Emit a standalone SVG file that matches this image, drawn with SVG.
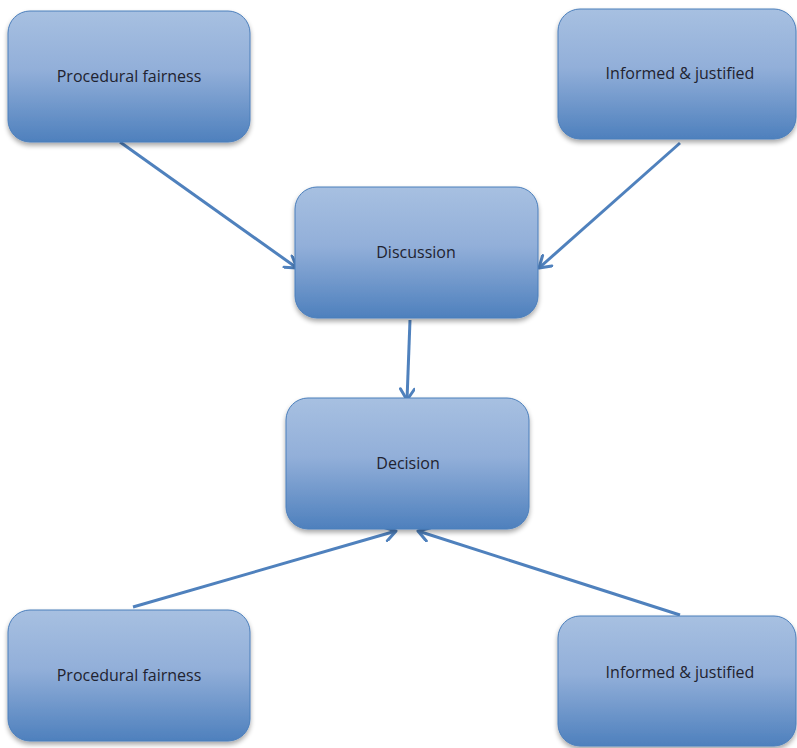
<svg xmlns="http://www.w3.org/2000/svg" width="797" height="748" viewBox="0 0 797 748">
<defs>
<linearGradient id="g" x1="0" y1="0" x2="0" y2="1">
<stop offset="0" stop-color="#a7c0e1"/>
<stop offset="0.45" stop-color="#92afd9"/>
<stop offset="1" stop-color="#4e80bd"/>
</linearGradient>
<filter id="sh" x="-10%" y="-10%" width="130%" height="130%">
<feGaussianBlur in="SourceAlpha" stdDeviation="2.5"/>
<feOffset dx="0" dy="3" result="b"/>
<feComponentTransfer><feFuncA type="linear" slope="0.35"/></feComponentTransfer>
<feMerge><feMergeNode/><feMergeNode in="SourceGraphic"/></feMerge>
</filter>
<marker id="arr" viewBox="0 0 16 16" refX="14" refY="8" markerWidth="16" markerHeight="16" markerUnits="userSpaceOnUse" orient="auto">
<path d="M3,1 L14,8 L3,15" fill="none" stroke="#4f81bd" stroke-width="3" stroke-linecap="round" stroke-linejoin="round"/>
</marker>
</defs>
<style>
.box{fill:url(#g);stroke:#4a7ebb;stroke-width:1;filter:url(#sh)}
.lbl{font-family:"Open Sans","Noto Sans",sans-serif;font-size:16px;fill:#1f2330;text-anchor:middle;dominant-baseline:central}
.con{stroke:#4f81bd;stroke-width:3;fill:none;marker-end:url(#arr)}
</style>
<g id="connectors">
<line class="con" x1="120" y1="142" x2="297" y2="268"/>
<line class="con" x1="680" y1="143" x2="539" y2="268"/>
<line class="con" x1="410" y1="320" x2="407" y2="400"/>
<line class="con" x1="133" y1="607" x2="396" y2="531"/>
<line class="con" x1="680" y1="615" x2="418" y2="531"/>
</g>
<g id="pf-top">
<rect class="box" x="8" y="11" width="242" height="131" rx="22"/>
<text class="lbl" x="129" y="76">Procedural fairness</text>
</g>
<g id="ij-top">
<rect class="box" x="558" y="9" width="238" height="130" rx="22"/>
<text class="lbl" x="680" y="73">Informed &amp; justified</text>
</g>
<g id="discussion">
<rect class="box" x="295" y="187" width="243" height="131" rx="22"/>
<text class="lbl" x="416" y="252">Discussion</text>
</g>
<g id="decision">
<rect class="box" x="286" y="398" width="243" height="131" rx="22"/>
<text class="lbl" x="408" y="463">Decision</text>
</g>
<g id="pf-bottom">
<rect class="box" x="8" y="610" width="242" height="131" rx="22"/>
<text class="lbl" x="129" y="675">Procedural fairness</text>
</g>
<g id="ij-bottom">
<rect class="box" x="558" y="616" width="238" height="130" rx="22"/>
<text class="lbl" x="680" y="672">Informed &amp; justified</text>
</g>
</svg>
